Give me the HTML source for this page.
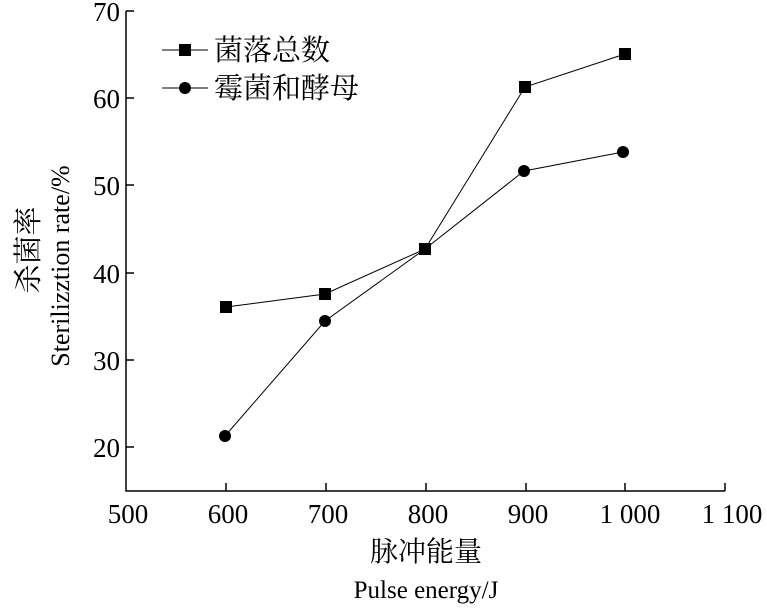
<!DOCTYPE html><html><head><style>body{margin:0;background:#fff}</style></head><body>
<svg width="767" height="609" xmlns="http://www.w3.org/2000/svg" font-family="Liberation Serif, Noto Serif CJK SC, serif" fill="#000">
<g stroke="#000" stroke-width="1.5" fill="none">
<path d="M126,11 V491 H725"/>
<path d="M126,11 h8 M126,98 h8 M126,185 h8 M126,273 h8 M126,360 h8 M126,447 h8"/>
<path d="M226,491 v-8 M326,491 v-8 M426,491 v-8 M526,491 v-8 M625,491 v-8 M725,491 v-8"/>
</g>
<g stroke="#000" stroke-width="1" fill="none">
<polyline points="226,307 325,294 425,249 525,87 625,54"/>
<polyline points="225,436 325,321 425,249 524,171 623,152"/>
<path d="M162,50 H208 M162,88 H208"/>
</g>
<g>
<rect x="220" y="301" width="12" height="12"/><rect x="319" y="288" width="12" height="12"/><rect x="419" y="243" width="12" height="12"/><rect x="519" y="81" width="12" height="12"/><rect x="619" y="48" width="12" height="12"/>
<circle cx="225" cy="436" r="6"/><circle cx="325" cy="321" r="6"/><circle cx="524" cy="171" r="6"/><circle cx="623" cy="152" r="6"/>
<rect x="179" y="44" width="12" height="12"/><circle cx="185" cy="88" r="6"/>
</g>
<g font-size="27" text-anchor="end">
<text x="120" y="21">70</text><text x="120" y="108">60</text><text x="120" y="195">50</text><text x="120" y="283">40</text><text x="120" y="370">30</text><text x="120" y="457">20</text>
</g>
<g font-size="27" text-anchor="middle">
<text x="128" y="523">500</text><text x="228" y="523">600</text><text x="328" y="523">700</text><text x="428" y="523">800</text><text x="528" y="523">900</text><text x="630" y="523">1 000</text><text x="732" y="523">1 100</text>
<text x="426" y="561" font-size="28" font-family="Noto Serif CJK SC, serif">脉冲能量</text>
<text x="426" y="598" font-size="25">Pulse energy/J</text>
</g>
<g font-size="29" font-family="Noto Serif CJK SC, serif"><text x="214" y="60">菌落总数</text><text x="214" y="98">霉菌和酵母</text></g>
<g transform="translate(38,250) rotate(-90)" text-anchor="middle"><text font-size="29" font-family="Noto Serif CJK SC, serif">杀菌率</text></g>
<g transform="translate(69,266) rotate(-90)" text-anchor="middle"><text font-size="26">Sterilizztion rate/%</text></g>
</svg></body></html>
